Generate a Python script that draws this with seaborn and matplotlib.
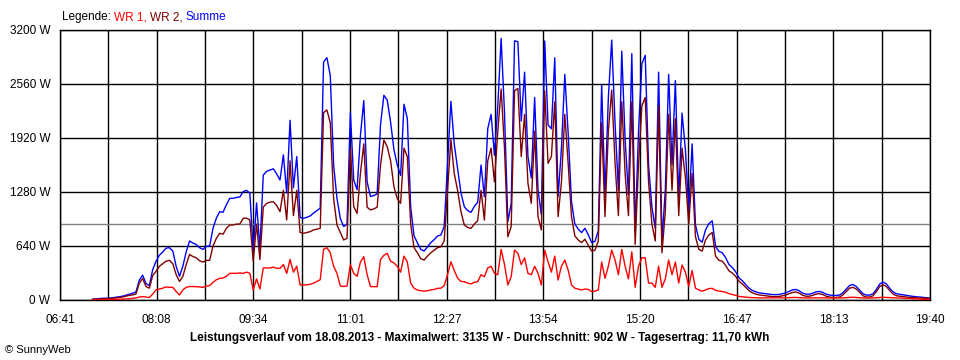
import numpy as np
import pandas as pd
import matplotlib
matplotlib.use("Agg")
import matplotlib.pyplot as plt
import seaborn as sns

# Leistungsverlauf 18.08.2013, Werte alle 3 Minuten ab 07:10 (in W)
minutes = np.arange(430, 1181, 3)  # 07:10 ... 19:40, minutes since midnight

wr2 = [8, 10, 12, 15, 15, 18, 20, 25, 30, 35,
       45, 55, 60, 70, 200, 255, 160, 140, 290, 340,
       400, 430, 460, 470, 430, 300, 220, 280, 420, 540,
       515, 500, 465, 450, 470, 470, 640, 730, 790, 780,
       850, 889, 889, 900, 900, 968, 970, 949, 460, 900,
       480, 1100, 1145, 1160, 1165, 1120, 1047, 1300, 950, 1650,
       1000, 1300, 800, 790, 800, 810, 830, 840, 849, 2220,
       2252, 2100, 1200, 889, 800, 711, 731, 1800, 1106, 1027,
       1500, 1850, 1100, 1067, 1080, 1100, 1600, 1896, 1817, 1650,
       1343, 1200, 1146, 1800, 1700, 900, 620, 560, 490, 474,
       520, 560, 590, 620, 630, 700, 1300, 1900, 1500, 1300,
       1050, 889, 860, 849, 900, 940, 1300, 948, 1650, 1800,
       1400, 2000, 2500, 1800, 750, 869, 2480, 2508, 1700, 2200,
       1383, 1146, 2000, 988, 830, 2480, 1620, 1700, 2350, 988,
       1400, 2200, 1620, 988, 760, 711, 680, 720, 650, 580,
       590, 700, 2100, 988, 2000, 2488, 1620, 1000, 2350, 1500,
       1000, 2350, 660, 1600, 2300, 2400, 1400, 900, 700, 2300,
       560, 1050, 2200, 1300, 2150, 1000, 1800, 1450, 900, 1500,
       750, 600, 580, 711, 770, 800, 520, 470, 460, 410,
       345, 320, 280, 220,
       190, 150, 110, 85, 70, 60,
       55, 50, 45, 40, 40, 42, 50, 60, 75, 90,
       95, 80, 55, 45, 45, 55, 70, 75, 65, 45,
       35, 30, 30, 35, 60, 100, 140, 150, 130, 90,
       50, 35, 35, 50, 100, 160, 180, 160, 110, 70,
       50, 45, 40, 35, 30, 28, 25, 25, 22, 20, 18]

wr1 = [2, 3, 4, 5, 5, 5, 6, 8, 8, 10,
       12, 15, 20, 25, 35, 40, 35, 30, 70, 120,
       130, 140, 155, 150, 150, 100, 60, 120, 150, 160,
       160, 158, 155, 150, 165, 170, 210, 240, 257, 260,
       280, 316, 316, 316, 320, 316, 330, 316, 120, 250,
       130, 380, 380, 380, 390, 375, 375, 420, 316, 480,
       330, 400, 178, 178, 180, 186, 200, 220, 240, 600,
       620, 560, 400, 316, 166, 160, 166, 420, 316, 280,
       450, 513, 300, 160, 158, 158, 480, 530, 553, 460,
       440, 400, 330, 520, 450, 200, 140, 118, 110, 106,
       108, 120, 125, 138, 140, 170, 300, 454, 350, 260,
       220, 217, 200, 190, 210, 217, 300, 276, 380, 400,
       316, 300, 600, 420, 178, 276, 592, 553, 420, 500,
       316, 300, 400, 316, 178, 590, 454, 330, 520, 237,
       400, 474, 355, 178, 140, 130, 119, 130, 125, 100,
       105, 119, 450, 257, 400, 592, 474, 300, 600, 400,
       250, 570, 150, 400, 500, 500, 200, 200, 150, 400,
       150, 250, 474, 300, 450, 200, 415, 330, 160, 350,
       140, 119, 105, 119, 135, 138, 115, 105, 100, 92,
       75, 65, 55, 42,
       38, 33, 30, 28, 27, 25,
       25, 25, 24, 24, 24, 24, 25, 26, 28, 30,
       30, 28, 25, 24, 24, 25, 26, 26, 25, 24,
       24, 24, 24, 24, 25, 28, 32, 33, 30, 27,
       24, 23, 23, 24, 26, 30, 32, 30, 27, 25,
       24, 23, 22, 20, 18, 15, 12, 10, 8, 6, 5]

average = 902
y_ticks = [0, 640, 1280, 1920, 2560, 3200]
x_labels = ["06:41", "08:08", "09:34", "11:01", "12:27",
            "13:54", "15:20", "16:47", "18:13", "19:40"]

df = pd.DataFrame({"t": minutes, "WR 1": wr1, "WR 2": wr2})
df["Summe"] = df["WR 1"] + df["WR 2"]

sns.set_style("white")
plt.rcParams["font.family"] = ["Liberation Sans", "DejaVu Sans"]

fig = plt.figure(figsize=(9.6, 3.6), dpi=100)
ax = fig.add_axes([60 / 960, 60 / 360, 870 / 960, 270 / 360])

t_start, t_end = 401, 1180
grid_x = np.linspace(t_start, t_end, 19)
for gx in grid_x:
    ax.axvline(gx, color="black", lw=1, zorder=1)
for gy in y_ticks:
    ax.axhline(gy, color="black", lw=1, zorder=1)
ax.axhline(average, color="#808080", lw=1, zorder=1)

sns.lineplot(data=df, x="t", y="Summe", color="#0000ff", lw=1,
             estimator=None, ax=ax, zorder=3)
sns.lineplot(data=df, x="t", y="WR 2", color="#800000", lw=1,
             estimator=None, ax=ax, zorder=4)
sns.lineplot(data=df, x="t", y="WR 1", color="#ff0000", lw=1,
             estimator=None, ax=ax, zorder=5)

ax.set_xlim(t_start, t_end)
ax.set_ylim(0, 3200)
ax.set_xticks(grid_x)
labels = []
for k in range(19):
    labels.append(x_labels[k // 2] if k % 2 == 0 else "")
ax.set_xticklabels(labels)
ax.set_yticks(y_ticks)
ax.set_yticklabels([f"{v} W" for v in y_ticks])
ax.tick_params(axis="both", direction="out", length=5, width=1,
               color="black", labelsize=8.5, labelcolor="black")
ax.tick_params(axis="x", pad=5)
ax.tick_params(axis="y", pad=2)
ax.set_xlabel("")
ax.set_ylabel("")
for s in ax.spines.values():
    s.set_color("black")
    s.set_linewidth(1)

# Legende oben, mehrfarbig
x0 = 62 / 960
parts = [("Legende: ", "black"), ("WR 1, ", "#ff0000"), ("WR 2, ", "#800000"), ("Summe", "#0000ff")]
renderer = fig.canvas.get_renderer()
for txt, col in parts:
    t = fig.text(x0, 1 - 17 / 360, txt, fontsize=8.5, color=col, va="center")
    bb = t.get_window_extent(renderer=renderer)
    x0 += bb.width / fig.bbox.width

fig.text(480 / 960, 1 - 338 / 360,
         "Leistungsverlauf vom 18.08.2013 - Maximalwert: 3135 W - Durchschnitt: 902 W - Tagesertrag: 11,70 kWh",
         ha="center", va="center", fontsize=8.5, fontweight="bold", color="black")
fig.text(5 / 960, 1 - 350 / 360, "© SunnyWeb", fontsize=8, va="center", color="black")

fig.savefig("out.png", dpi=100, facecolor="white")
